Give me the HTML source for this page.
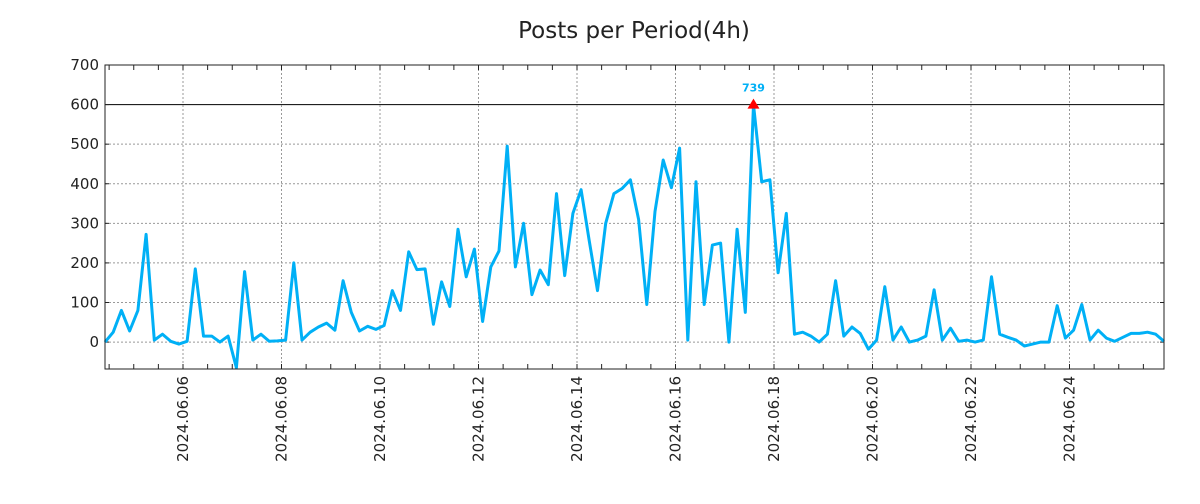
<!DOCTYPE html>
<html><head><meta charset="utf-8"><style>
body{margin:0;background:#fff;font-family:"DejaVu Sans","Liberation Sans",sans-serif}
</style></head><body>
<svg id="c" width="1200" height="500" xmlns="http://www.w3.org/2000/svg">
<text x="634" y="38" text-anchor="middle" font-size="23" fill="#222">Posts per Period(4h)</text>
</svg>
<script>
const startHour = 106; // 2024.06.04 10:00 offset from 06.00
const stepHours = 4;
const values = [0,25,80,28,80,272,5,20,2,-5,2,185,15,15,0,15,-65,178,5,20,2,3,5,200,5,25,38,48,30,155,75,28,40,32,42,130,80,228,183,185,45,152,90,285,165,235,52,190,230,495,190,300,120,182,145,375,168,325,385,255,130,300,375,388,410,310,95,330,460,390,490,5,405,95,245,250,0,285,75,739,405,410,175,325,20,25,15,0,20,155,15,38,22,-18,5,140,5,38,0,5,15,132,5,35,2,5,0,5,165,20,12,5,-10,-5,0,0,92,10,30,95,5,30,10,2,12,22,22,25,20,2];
const yTicks = [0,100,200,300,400,500,600,700];
const dateTicks = ["2024.06.06","2024.06.08","2024.06.10","2024.06.12","2024.06.14","2024.06.16","2024.06.18","2024.06.20","2024.06.22","2024.06.24"];
const capValue = 600;

const svg = document.getElementById('c');
const NS = 'http://www.w3.org/2000/svg';
const L=105,R=1164,T=65,B=369;
const yMin=-68,yMax=700;
const y = v => B - (v - yMin)/(yMax-yMin)*(B-T);
const xh = h => 183 + (h-144)/24*49.25;
const xi = i => xh(startHour + i*stepHours);
function mk(tag, attrs){const e=document.createElementNS(NS,tag);for(const k in attrs)e.setAttribute(k,attrs[k]);svg.appendChild(e);return e;}

yTicks.forEach(v=>{
  const yy=y(v);
  const g=mk('line',{x1:L,x2:R,y1:yy,y2:yy,stroke:v===capValue?'#000':'#999','stroke-dasharray':v===capValue?'':'2,2','stroke-width':1});
  
  
  const t=mk('text',{x:L-6,y:yy+5,'text-anchor':'end','font-size':15,fill:'#222'});
  t.textContent=v;
  
  
  mk('line',{x1:L,x2:L+4,y1:yy,y2:yy,stroke:'#222'});
  mk('line',{x1:R,x2:R-4,y1:yy,y2:yy,stroke:'#222'});
});
dateTicks.forEach(d=>{
  const day=parseInt(d.slice(8));
  const xx=xh(day*24);
  const g=mk('line',{x1:xx,x2:xx,y1:T,y2:B,stroke:'#999','stroke-dasharray':'2,2'});
  
  
  const t=mk('text',{x:0,y:0,'text-anchor':'end','font-size':15,fill:'#222',transform:`translate(${xx+5},376) rotate(-90)`});
  t.textContent=d;
  
  
});
for(let h=Math.ceil(startHour/12)*12; xh(h)<=R; h+=12){
  const xx=xh(h);
  mk('line',{x1:xx,x2:xx,y1:T,y2:T+5,stroke:'#222'});
  mk('line',{x1:xx,x2:xx,y1:B,y2:B-5,stroke:'#222'});
}
let d='';
values.forEach((v,i)=>{d+=(i?'L':'M')+xi(i).toFixed(1)+','+y(Math.min(v,capValue)).toFixed(1);});
const p=mk('path',{d:d,fill:'none',stroke:'#00b0f6','stroke-width':3,'stroke-linejoin':'round'});


let mi=0; values.forEach((v,i)=>{if(v>values[mi])mi=i;});
const mx=xi(mi), my=y(Math.min(values[mi],capValue));
const m=mk('polygon',{points:`${mx-6},${my+4} ${mx+6},${my+4} ${mx},${my-6}`,fill:'#f00'});


const ml=mk('text',{x:mx,y:my-13,'text-anchor':'middle','font-size':11,'font-weight':'bold',fill:'#00b0f6'});
ml.textContent=values[mi];


const f=mk('rect',{x:L,y:T,width:R-L,height:B-T,fill:'none',stroke:'#222','stroke-width':1});


</script>
</body></html>
